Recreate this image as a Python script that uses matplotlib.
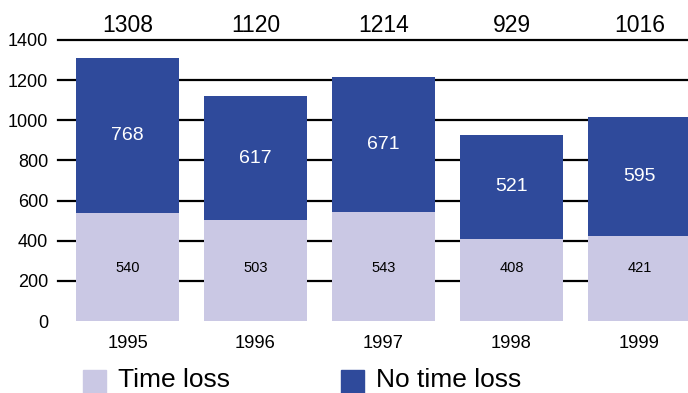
import matplotlib
matplotlib.use("Agg")
import matplotlib.pyplot as plt
from matplotlib.patches import Rectangle
import matplotlib.transforms as mtransforms

plt.rcParams['font.family'] = ['Liberation Sans', 'DejaVu Sans']

# Data
years = ["1995", "1996", "1997", "1998", "1999"]
time_loss = [540, 503, 543, 408, 421]
no_time_loss = [768, 617, 671, 521, 595]
totals = [1308, 1120, 1214, 929, 1016]
y_ticks = [0, 200, 400, 600, 800, 1000, 1200, 1400]

light = "#CAC8E4"
dark = "#2F4A9B"

W, H = 688, 393
fig = plt.figure(figsize=(W / 100, H / 100), dpi=100)
ax = fig.add_axes([58 / W, 72 / H, 630 / W, 281 / H])

x = list(range(len(years)))
ax.bar(x, time_loss, width=0.8, color=light, zorder=2)
ax.bar(x, no_time_loss, width=0.8, bottom=time_loss, color=dark, zorder=2)

# horizontal rules behind the bars
for v in y_ticks[1:]:
    ax.axhline(v, color="black", lw=1.6, zorder=1, clip_on=False)

ax.set_xlim(-0.543, 4.379)
ax.set_ylim(0, 1400)
ax.set_yticks(y_ticks)
ax.set_yticklabels([str(v) for v in y_ticks], fontsize=13)
ax.tick_params(axis="y", length=0, pad=7)
ax.set_xticks([])
for s in ax.spines.values():
    s.set_visible(False)

top = mtransforms.blended_transform_factory(ax.transData, ax.transAxes)
for i in x:
    # totals above the plot area
    ax.text(i, 1.0 + 15 / 281, str(totals[i]), transform=top,
            ha="center", va="center", fontsize=16.5)
    # year labels under the bars
    ax.text(i, -22 / 281, years[i], transform=top,
            ha="center", va="center", fontsize=13.2)
    # segment values
    ax.text(i, time_loss[i] + no_time_loss[i] / 2, str(no_time_loss[i]),
            ha="center", va="center", fontsize=14, color="white", zorder=3)
    ax.text(i, 265, str(time_loss[i]),
            ha="center", va="center", fontsize=10.5, color="black", zorder=3)

# legend
sq = 23
for (px, label, col, tx) in [(83, "Time loss", light, 118),
                             (341, "No time loss", dark, 376)]:
    fig.patches.append(Rectangle((px / W, (H - 393) / H), sq / W, sq / H,
                                 transform=fig.transFigure, color=col))
    fig.text(tx / W, (H - 387) / H, label, ha="left", va="baseline", fontsize=19)

fig.savefig("out.png", dpi=100)
